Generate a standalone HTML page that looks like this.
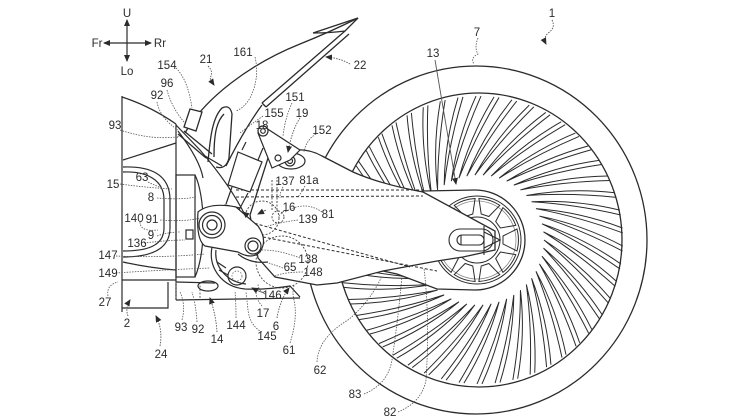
<!DOCTYPE html>
<html><head><meta charset="utf-8">
<style>
html,body{margin:0;padding:0;background:#fff;}
svg{display:block;}
text{font-family:"Liberation Sans",sans-serif;font-size:11.5px;fill:#2b2b2b;text-anchor:middle;}
</style></head>
<body>
<svg width="746" height="420" viewBox="0 0 746 420" xmlns="http://www.w3.org/2000/svg">
<defs>
<marker id="ah" markerWidth="7" markerHeight="7" refX="6" refY="3.5" orient="auto-start-reverse" markerUnits="userSpaceOnUse">
<path d="M0,0.5 L7,3.5 L0,6.5 Z" fill="#2b2b2b"/></marker>
<path id="sp" d="M610.5,298.6 Q581,264 544,240 Q578,268 608.4,303.1" fill="none" stroke="#2b2b2b" stroke-width="1"/>
<path id="hole" d="M503,236 L517,229 Q520,240 517,251 L503,244 Z" fill="none" stroke="#2b2b2b" stroke-width="1"/>
</defs>
<rect width="746" height="420" fill="#fff"/>

<!-- direction cross -->
<g stroke="#2b2b2b" stroke-width="1.2" fill="none">
<line x1="127" y1="20" x2="127" y2="61" marker-start="url(#ah)" marker-end="url(#ah)"/>
<line x1="104" y1="43" x2="151" y2="43" marker-start="url(#ah)" marker-end="url(#ah)"/>
</g>

<!-- wheel -->
<g fill="none" stroke="#2b2b2b" stroke-width="1.3">
<ellipse cx="476" cy="240" rx="171" ry="174"/>
<ellipse cx="479" cy="240" rx="143" ry="147"/>
</g>
<g>
<use href="#sp" transform="rotate(0 479 240)"/><use href="#sp" transform="rotate(7.2 479 240)"/><use href="#sp" transform="rotate(14.4 479 240)"/><use href="#sp" transform="rotate(21.6 479 240)"/><use href="#sp" transform="rotate(28.8 479 240)"/>
<use href="#sp" transform="rotate(36 479 240)"/><use href="#sp" transform="rotate(43.2 479 240)"/><use href="#sp" transform="rotate(50.4 479 240)"/><use href="#sp" transform="rotate(57.6 479 240)"/><use href="#sp" transform="rotate(64.8 479 240)"/>
<use href="#sp" transform="rotate(72 479 240)"/><use href="#sp" transform="rotate(79.2 479 240)"/><use href="#sp" transform="rotate(86.4 479 240)"/><use href="#sp" transform="rotate(93.6 479 240)"/><use href="#sp" transform="rotate(100.8 479 240)"/>
<use href="#sp" transform="rotate(108 479 240)"/><use href="#sp" transform="rotate(115.2 479 240)"/><use href="#sp" transform="rotate(122.4 479 240)"/><use href="#sp" transform="rotate(129.6 479 240)"/><use href="#sp" transform="rotate(136.8 479 240)"/>
<use href="#sp" transform="rotate(144 479 240)"/><use href="#sp" transform="rotate(151.2 479 240)"/><use href="#sp" transform="rotate(158.4 479 240)"/><use href="#sp" transform="rotate(165.6 479 240)"/><use href="#sp" transform="rotate(172.8 479 240)"/>
<use href="#sp" transform="rotate(180 479 240)"/><use href="#sp" transform="rotate(187.2 479 240)"/><use href="#sp" transform="rotate(194.4 479 240)"/><use href="#sp" transform="rotate(201.6 479 240)"/><use href="#sp" transform="rotate(208.8 479 240)"/>
<use href="#sp" transform="rotate(216 479 240)"/><use href="#sp" transform="rotate(223.2 479 240)"/><use href="#sp" transform="rotate(230.4 479 240)"/><use href="#sp" transform="rotate(237.6 479 240)"/><use href="#sp" transform="rotate(244.8 479 240)"/>
<use href="#sp" transform="rotate(252 479 240)"/><use href="#sp" transform="rotate(259.2 479 240)"/><use href="#sp" transform="rotate(266.4 479 240)"/><use href="#sp" transform="rotate(273.6 479 240)"/><use href="#sp" transform="rotate(280.8 479 240)"/>
<use href="#sp" transform="rotate(288 479 240)"/><use href="#sp" transform="rotate(295.2 479 240)"/><use href="#sp" transform="rotate(302.4 479 240)"/><use href="#sp" transform="rotate(309.6 479 240)"/><use href="#sp" transform="rotate(316.8 479 240)"/>
<use href="#sp" transform="rotate(324 479 240)"/><use href="#sp" transform="rotate(331.2 479 240)"/><use href="#sp" transform="rotate(338.4 479 240)"/><use href="#sp" transform="rotate(345.6 479 240)"/><use href="#sp" transform="rotate(352.8 479 240)"/>
</g>

<!-- chain case around sprocket -->
<path d="M423,191 L475,190 A50,50 0 0 1 475,290 L437,289 L397,274 L383,271 Z" fill="#fff" stroke="#2b2b2b" stroke-width="1.3"/>
<g fill="none" stroke="#2b2b2b" stroke-width="1">
<circle cx="477" cy="240" r="44"/>
<circle cx="477" cy="240" r="39" stroke="#888" stroke-width="0.8"/>
<circle cx="477" cy="240" r="23"/>
</g>
<g>
<use href="#hole" transform="rotate(0 477 240)"/><use href="#hole" transform="rotate(36 477 240)"/><use href="#hole" transform="rotate(72 477 240)"/><use href="#hole" transform="rotate(108 477 240)"/><use href="#hole" transform="rotate(144 477 240)"/>
<use href="#hole" transform="rotate(180 477 240)"/><use href="#hole" transform="rotate(216 477 240)"/><use href="#hole" transform="rotate(252 477 240)"/><use href="#hole" transform="rotate(288 477 240)"/><use href="#hole" transform="rotate(324 477 240)"/>
</g>

<!-- swingarm -->
<path d="M268,158 C282,149 305,146 322,156 L353,172 Q380,184 423,192 L495,231 L495,250 L463,257 L437,261 L383,271 L337,283 L317,285 L275,277 L258,258 L250,215 Z" fill="#fff" stroke="#2b2b2b" stroke-width="1.3"/>
<!-- axle boss -->
<g fill="none" stroke="#2b2b2b" stroke-width="1.1">
<rect x="449" y="229" width="44" height="22" rx="11"/>
<rect x="457" y="235" width="27" height="10" rx="5"/>
<line x1="461" y1="235" x2="461" y2="245"/>
<line x1="484" y1="226" x2="484" y2="255"/>
<path d="M484,232 L500,240 L484,248"/>
</g>
<!-- dashed chain lines -->
<g fill="none" stroke="#2b2b2b" stroke-width="1" stroke-dasharray="3 2">
<line x1="236" y1="190" x2="423" y2="190"/>
<line x1="236" y1="197" x2="423" y2="196"/>
<line x1="250" y1="222" x2="410" y2="267"/>
<line x1="258" y1="236" x2="437" y2="271"/>
</g>
<g fill="none" stroke="#444" stroke-width="0.9" stroke-dasharray="2 1.5">
<circle cx="262" cy="218" r="17"/>
<circle cx="278" cy="217" r="6"/>
<circle cx="282" cy="262" r="26"/>
<line x1="272" y1="180" x2="272" y2="210"/>
<line x1="277" y1="180" x2="277" y2="210"/>
</g>

<!-- shock top mount -->
<g fill="none" stroke="#2b2b2b" stroke-width="1.2">
<ellipse cx="291" cy="161" rx="14" ry="8"/>
<circle cx="290" cy="161" r="5"/>
<circle cx="290" cy="161" r="2.5"/>
<path d="M258,133 L266,128 L300,150 L290,160 L272,168 Z" fill="#fff"/>
<circle cx="263" cy="131" r="5" fill="#fff"/>
<circle cx="263" cy="131" r="2.3"/>
<circle cx="278" cy="158" r="3"/>
<path d="M238,152 L262,162 L250,192 L228,185 Z" fill="#fff"/>
<line x1="242" y1="150" x2="246" y2="142"/>
<line x1="258" y1="160" x2="263" y2="148"/>
<path d="M232,187 L226,204 M248,193 L240,208"/>
<path d="M225,205 L240,208 L236,218 L221,215 Z"/>
</g>

<!-- fender -->
<g fill="none" stroke="#2b2b2b" stroke-width="1.3">
<path d="M185,133 C205,98 250,64 300,44 C320,36 340,27 358,18"/>
<path d="M313,33 L358,18 L345,31 Q330,33 313,33"/>
<path d="M262,103 L345,31"/>
<path d="M266,107 L349,34"/>
<path d="M262,103 L266,107"/>
<path d="M226,166 C236,146 248,124 262,105"/>
<path d="M208,162 C210,140 212,118 222,108 Q230,104 232,114 L229,158 Q226,170 216,167"/>
<path d="M214,157 C214,136 216,122 224,114"/>
<path d="M190,109 L202,112 L196,131 L184,127 Z" fill="#fff"/>
<path d="M178,134 L206,158 M184,131 L212,154"/>
<path d="M205,156 L222,166"/>
</g>

<!-- left body -->
<g fill="none" stroke="#2b2b2b" stroke-width="1.2">
<path d="M122,96 L122,312"/>
<path d="M122,97 Q150,106 176,124"/>
<path d="M123,160 L176,143"/>
<path d="M176,124 L176,300"/>
<path d="M123,167 C150,166 170,174 170,200 L170,228 C170,250 150,257 123,257"/>
<path d="M123,172 C147,171 164,180 164,200 L164,228 C164,246 147,251 123,251"/>
<path d="M123,262 Q150,268 176,270"/>
<path d="M122,280 L176,280"/>
<path d="M122,308 L168,308 L168,282"/>
<rect x="176" y="175" width="19" height="102"/>
<path d="M195,175 C205,195 207,250 195,277"/>
<path d="M176,125 L200,150 Q230,185 245,215"/>
<path d="M178,131 Q200,160 203,178"/>
<path d="M176,300 L300,298"/>
<path d="M176,282 L215,283"/>
<rect x="186" y="230" width="7" height="9"/>
</g>
<g fill="none" stroke="#555" stroke-width="0.9" stroke-dasharray="2 1.5">
<path d="M176,282 L176,300 M200,282 L200,300"/>
<path d="M180,133 L176,140"/>
</g>

<!-- pivot plate -->
<g fill="none" stroke="#2b2b2b" stroke-width="1.2">
<path d="M198,212 Q210,202 236,207 L258,226 Q268,240 260,252 Q252,260 238,252 L205,246 Q196,240 198,212 Z" fill="#fff"/>
<circle cx="212" cy="225" r="13"/>
<circle cx="212" cy="225" r="9.5"/>
<circle cx="212" cy="225" r="5"/>
<circle cx="253" cy="246" r="8"/>
<circle cx="253" cy="246" r="5"/>
<path d="M212,247 C208,268 222,287 245,289 Q265,290 290,286 L300,297"/>
<path d="M216,250 C214,266 226,282 246,284"/>
<path d="M238,254 Q250,264 268,262"/>
<ellipse cx="208" cy="286" rx="10" ry="5"/>
<circle cx="237" cy="276" r="9"/>
<path d="M217,262 L226,268 M219,270 L228,275"/>
</g>
<circle cx="237" cy="276" r="5" fill="none" stroke="#666" stroke-width="0.8" stroke-dasharray="1.5 1.5"/>

<!-- leader lines -->
<g fill="none" stroke="#555" stroke-width="0.8" stroke-dasharray="1.5 1.2">
<path d="M478,38 Q474,48 478,54 Q470,58 474,64"/>
<path d="M255,57 Q260,78 250,98 Q244,108 236,111"/>
<path d="M176,68 Q188,80 192,108"/>
<path d="M167,90 Q172,108 184,122"/>
<path d="M157,102 Q160,118 178,130"/>
<path d="M120,130 Q150,140 176,137"/>
<path d="M263,116 Q250,125 240,133"/>
<path d="M292,103 Q285,118 283,136"/>
<path d="M316,134 Q306,140 304,152"/>
<path d="M120,184 Q150,188 172,189"/>
<path d="M148,182 Q156,186 162,188"/>
<path d="M157,198 Q180,200 196,197"/>
<path d="M160,220 Q185,222 200,218"/>
<path d="M140,222 Q140,232 158,230"/>
<path d="M157,236 Q168,232 180,232"/>
<path d="M144,243 Q170,240 185,240"/>
<path d="M116,256 Q160,258 205,254"/>
<path d="M116,273 Q160,270 210,268"/>
<path d="M108,296 Q106,285 118,282"/>
<path d="M182,320 Q186,305 180,292"/>
<path d="M197,322 Q196,305 192,292"/>
<path d="M236,318 Q236,303 235,291"/>
<path d="M262,332 Q250,326 248,310 L246,292"/>
<path d="M262,306 Q255,298 256,288"/>
<path d="M265,294 Q258,290 258,284"/>
<path d="M290,343 Q298,318 294,300 Q292,292 294,286"/>
<path d="M317,362 Q318,338 348,320 Q370,302 382,276"/>
<path d="M364,394 Q388,384 392,360 Q398,320 402,276"/>
<path d="M398,412 Q422,402 426,380 Q430,320 424,268"/>
<path d="M322,212 Q305,200 285,212"/>
<path d="M298,220 Q282,222 268,226"/>
<path d="M300,258 Q280,250 262,250"/>
<path d="M283,268 Q272,264 266,262"/>
<path d="M303,272 Q285,272 275,276"/>
<path d="M283,187 Q280,192 280,198"/>
<path d="M305,186 Q302,192 298,197"/>
<path d="M284,211 Q280,214 279,216"/>
</g>
<g fill="none" stroke="#555" stroke-width="0.9">
<path d="M552,20 Q556,28 548,33 Q543,38 546,44" marker-end="url(#ah)" stroke-dasharray="1.5 1.2"/>
<path d="M350,64 Q340,58 326,57" marker-end="url(#ah)" stroke-dasharray="1.5 1.2"/>
<path d="M208,66 Q214,72 210,78 Q212,82 214,85" marker-end="url(#ah)" stroke-dasharray="1.5 1.2"/>
<path d="M435,60 L456,184" marker-end="url(#ah)"/>
<path d="M300,118 Q292,130 288,152" marker-end="url(#ah)" stroke-dasharray="1.5 1.2"/>
<path d="M128,316 Q125,308 130,300" marker-end="url(#ah)" stroke-dasharray="1.5 1.2"/>
<path d="M160,346 Q163,330 156,316" marker-end="url(#ah)" stroke-dasharray="1.5 1.2"/>
<path d="M217,332 Q216,315 210,298" marker-end="url(#ah)" stroke-dasharray="1.5 1.2"/>
<path d="M277,318 Q280,300 289,288" marker-end="url(#ah)" stroke-dasharray="1.5 1.2"/>
<path d="M248,216 L243,212" marker-end="url(#ah)"/>
<path d="M266,210 L258,214" marker-end="url(#ah)"/>
<path d="M264,293 Q258,291 252,288" marker-end="url(#ah)"/>
</g>

<!-- labels -->
<text x="127" y="17">U</text>
<text x="97" y="47">Fr</text>
<text x="160" y="47">Rr</text>
<text x="127" y="75">Lo</text>
<text x="552" y="17">1</text>
<text x="477" y="36">7</text>
<text x="433" y="57">13</text>
<text x="360" y="69">22</text>
<text x="243" y="56">161</text>
<text x="206" y="63">21</text>
<text x="167" y="69">154</text>
<text x="167" y="87">96</text>
<text x="157" y="99">92</text>
<text x="115" y="129">93</text>
<text x="295" y="101">151</text>
<text x="302" y="117">19</text>
<text x="274" y="117">155</text>
<text x="262" y="129">18</text>
<text x="322" y="134">152</text>
<text x="285" y="185">137</text>
<text x="309" y="184">81a</text>
<text x="289" y="211">16</text>
<text x="328" y="218">81</text>
<text x="308" y="223">139</text>
<text x="308" y="263">138</text>
<text x="290" y="271">65</text>
<text x="313" y="276">148</text>
<text x="113" y="188">15</text>
<text x="142" y="181">63</text>
<text x="151" y="201">8</text>
<text x="134" y="222">140</text>
<text x="152" y="223">91</text>
<text x="151" y="239">9</text>
<text x="137" y="247">136</text>
<text x="108" y="259">147</text>
<text x="108" y="277">149</text>
<text x="105" y="306">27</text>
<text x="127" y="327">2</text>
<text x="161" y="358">24</text>
<text x="181" y="331">93</text>
<text x="198" y="333">92</text>
<text x="217" y="343">14</text>
<text x="236" y="329">144</text>
<text x="263" y="317">17</text>
<text x="267" y="340">145</text>
<text x="276" y="330">6</text>
<text x="272" y="299">146</text>
<text x="289" y="354">61</text>
<text x="320" y="374">62</text>
<text x="355" y="398">83</text>
<text x="390" y="416">82</text>
</svg>
</body></html>
